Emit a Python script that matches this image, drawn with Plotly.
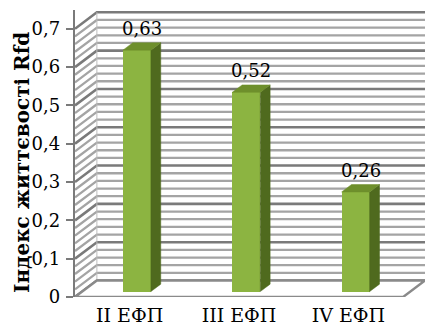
import plotly.graph_objects as go

categories = ["II ЕФП", "III ЕФП", "IV ЕФП"]
values = [0.63, 0.52, 0.26]
tick_values = [0, 0.1, 0.2, 0.3, 0.4, 0.5, 0.6, 0.7]
tick_labels = ["0", "0,1", "0,2", "0,3", "0,4", "0,5", "0,6", "0,7"]
y_title = "Індекс життєвості Rfd"

# oblique depth of the 3-D box, in axis units
DX = 0.2
DY = 0.043
Y_MAX = 0.7
GRID_STEP = 0.02
F0, F1 = 0.33, 0.78        # depth fractions of bar front / back faces
HALF_W = 0.128             # half width of a bar's front face

FRONT = "#8cb441"
SIDE = "#4f6a1e"
TOP = "#6e8f2c"
FONT = "DejaVu Serif, serif"

x_left = -0.5
x_right = len(categories) - 0.5

fig = go.Figure()
shapes = []

# wall gridlines: back wall horizontals joined to the left-wall diagonals
n_lines = round(Y_MAX / GRID_STEP)
for k in range(n_lines + 1):
    v = k * GRID_STEP
    major = k % 5 == 0
    path = (f"M {x_left} {v} L {x_left + DX} {v + DY} "
            f"L {x_right + DX} {v + DY}")
    shapes.append(dict(type="path", path=path, layer="below",
                       line=dict(color="#7a7a7a" if major else "#a4a4a4",
                                 width=2.6 if major else 2.3)))

# corner edge between left and back wall
shapes.append(dict(type="line", layer="below",
                   x0=x_left + DX, x1=x_left + DX, y0=DY, y1=Y_MAX + DY,
                   line=dict(color="#bdbdbd", width=1)))

# floor
shapes.append(dict(type="path", layer="below",
                   path=(f"M {x_left} 0 L {x_right} 0 L {x_right + DX} {DY} "
                         f"L {x_left + DX} {DY} Z"),
                   fillcolor="white", line=dict(color="#8a8a8a", width=2.4)))

# bars: front faces
bar_x = [i + F0 * DX for i in range(len(values))]
fig.add_trace(go.Bar(x=bar_x, y=values, base=[F0 * DY] * len(values),
                     width=2 * HALF_W, marker=dict(color=FRONT, line=dict(width=0)),
                     showlegend=False, hoverinfo="skip"))

# bars: side and top faces, value labels
ddx = (F1 - F0) * DX
ddy = (F1 - F0) * DY
for i, v in enumerate(values):
    xl = bar_x[i] - HALF_W
    xr = bar_x[i] + HALF_W
    b0 = F0 * DY
    t0 = b0 + v
    fig.add_trace(go.Scatter(
        x=[xr, xr, xr + ddx, xr + ddx, xr],
        y=[b0, t0, t0 + ddy, b0 + ddy, b0],
        mode="lines", fill="toself", fillcolor=SIDE,
        line=dict(color=SIDE, width=0.5), hoverinfo="skip", showlegend=False))
    fig.add_trace(go.Scatter(
        x=[xl, xr, xr + ddx, xl + ddx, xl],
        y=[t0, t0, t0 + ddy, t0 + ddy, t0],
        mode="lines", fill="toself", fillcolor=TOP,
        line=dict(color=TOP, width=0.5), hoverinfo="skip", showlegend=False))
    fig.add_annotation(x=bar_x[i] + ddx / 2, y=t0 + ddy,
                       text=f"{v:.2f}".replace(".", ","),
                       showarrow=False, yanchor="bottom", yshift=2,
                       font=dict(family=FONT, size=18, color="black"))

fig.add_annotation(xref="paper", yref="y", x=-53 / 350, y=Y_MAX / 2,
                   xanchor="center", yanchor="middle",
                   text=f"<b>{y_title}</b>", textangle=-90, showarrow=False,
                   font=dict(family=FONT, size=20, color="black"))

fig.update_layout(
    width=425, height=325,
    margin=dict(l=75, r=0, t=10, b=28),
    paper_bgcolor="white", plot_bgcolor="white",
    bargap=0,
    shapes=shapes,
    xaxis=dict(range=[x_left, x_right + DX], tickvals=list(range(len(categories))),
               ticktext=categories, showgrid=False, zeroline=False, showline=False,
               ticks="", ticklabelstandoff=5,
               tickfont=dict(family=FONT, size=19, color="black")),
    yaxis=dict(range=[0, 0.749], tickvals=tick_values, ticktext=tick_labels,
               showgrid=False, zeroline=False, showline=True,
               linecolor="#7a7a7a", linewidth=2.4,
               ticks="outside", ticklen=7, tickwidth=2, tickcolor="#7a7a7a",
               ticklabelstandoff=2,
               tickfont=dict(family=FONT, size=18, color="black")),
)

fig.write_html("out.html")
